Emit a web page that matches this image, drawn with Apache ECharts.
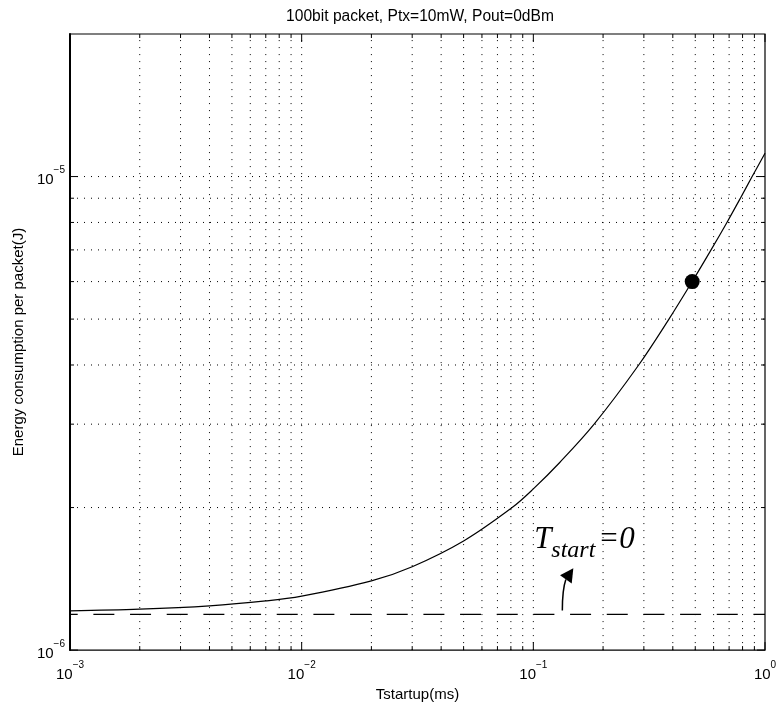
<!DOCTYPE html>
<html>
<head>
<meta charset="utf-8">
<title>Energy consumption per packet</title>
<script src="https://cdn.jsdelivr.net/npm/echarts@6/dist/echarts.min.js"></script>
<style>
  html, body { margin: 0; padding: 0; background: #fff; }
  #main { width: 782px; height: 707px; }
</style>
</head>
<body>
<div id="main"></div>
<script type="text/javascript">
// values (t in ms, energy in J)
var tStartup = [0.001, 0.002, 0.004, 0.007, 0.01, 0.02, 0.03, 0.05, 0.081, 0.1,
                0.13, 0.183, 0.285, 0.385, 0.485, 0.585, 0.685, 0.783, 0.88, 1.0];
var energy   = [1.21e-6, 1.22e-6, 1.24e-6, 1.27e-6, 1.30e-6, 1.40e-6, 1.50e-6, 1.70e-6, 2.0e-6, 2.19e-6,
                2.49e-6, 3.0e-6, 4.0e-6, 5.0e-6, 6.0e-6, 7.0e-6, 8.0e-6, 9.0e-6, 1.0e-5, 1.12e-5];
var baseEnergy = 1.19e-6;          // T_start = 0 level
var dotPoint = [0.485, 6.0e-6];
var xRange = [0.001, 1];
var yRange = [1e-6, 2e-5];
var xMajor = [0.001, 0.01, 0.1, 1];
var xMinor = [0.002, 0.003, 0.004, 0.005, 0.006, 0.007, 0.008, 0.009,
              0.02, 0.03, 0.04, 0.05, 0.06, 0.07, 0.08, 0.09,
              0.2, 0.3, 0.4, 0.5, 0.6, 0.7, 0.8, 0.9];
var yMajor = [1e-6, 1e-5];
var yMinor = [2e-6, 3e-6, 4e-6, 5e-6, 6e-6, 7e-6, 8e-6, 9e-6];
var noteAt = [0.1, 1.63e-6];

var FONT = 'Liberation Sans';
var dotDash = [1, 6];

function powLabel(v) {
  var e = Math.log(v) / Math.LN10;
  var r = Math.round(e);
  if (Math.abs(e - r) > 0.01) return '';
  return '{b|10}{s|' + (r < 0 ? '\u2212' + (-r) : r) + '}';
}
var labelRich = {
  b: { fontSize: 15, lineHeight: 22, verticalAlign: 'bottom', fontFamily: FONT, color: '#000' },
  s: { fontSize: 10, lineHeight: 10, verticalAlign: 'top', fontFamily: FONT, color: '#000' }
};

function tickLine(x1, y1, x2, y2, dash) {
  return {
    type: 'line',
    shape: { x1: x1, y1: y1, x2: x2, y2: y2 },
    style: { stroke: '#000', lineWidth: 1, lineDash: dash || null },
    silent: true
  };
}

function renderXGrid(params, api) {
  var v = api.value(0);
  var len = api.value(2) ? 8 : 4;
  var p0 = api.coord([v, yRange[0]]);
  var p1 = api.coord([v, yRange[1]]);
  var kids = [];
  if (v > xRange[0] && v < xRange[1]) {
    kids.push(tickLine(p0[0], p0[1], p1[0], p1[1], dotDash));
  }
  kids.push(tickLine(p0[0], p0[1], p0[0], p0[1] - len));
  kids.push(tickLine(p1[0], p1[1], p1[0], p1[1] + len));
  return { type: 'group', children: kids };
}

function renderYGrid(params, api) {
  var v = api.value(1);
  var len = api.value(2) ? 8 : 4;
  var p0 = api.coord([xRange[0], v]);
  var p1 = api.coord([xRange[1], v]);
  var kids = [];
  if (v > yRange[0] && v < yRange[1]) {
    kids.push(tickLine(p0[0], p0[1], p1[0], p1[1], dotDash));
  }
  kids.push(tickLine(p0[0], p0[1], p0[0] + len, p0[1]));
  kids.push(tickLine(p1[0], p1[1], p1[0] - len, p1[1]));
  return { type: 'group', children: kids };
}

var xGridData = xMajor.map(function (v) { return [v, yRange[0], 1]; })
  .concat(xMinor.map(function (v) { return [v, yRange[0], 0]; }));
var yGridData = yMajor.map(function (v) { return [xRange[0], v, 1]; })
  .concat(yMinor.map(function (v) { return [xRange[0], v, 0]; }));

var curve = tStartup.map(function (t, i) { return [t, energy[i]]; });
var baseLine = [[xRange[0], baseEnergy], [xRange[1], baseEnergy]];

var myChart = echarts.init(document.getElementById('main'));
var option = {
  backgroundColor: '#fff',
  animation: false,
  title: {
    text: '100bit packet, Ptx=10mW, Pout=0dBm',
    left: 415,
    textAlign: 'center',
    top: 4,
    textStyle: { fontFamily: FONT, fontSize: 15.6, fontWeight: 'normal', color: '#000' }
  },
  grid: {
    left: 70, right: 17, top: 34, bottom: 54,
    show: true, borderColor: '#000', borderWidth: 1.2, backgroundColor: '#fff'
  },
  xAxis: {
    type: 'log', logBase: 10, min: xRange[0], max: xRange[1],
    name: 'Tstartup(ms)', nameLocation: 'middle', nameGap: 30,
    nameTextStyle: { fontFamily: FONT, fontSize: 15, color: '#000' },
    axisLine: { show: false }, axisTick: { show: false }, splitLine: { show: false },
    axisLabel: { margin: 10, formatter: powLabel, rich: labelRich, showMaxLabel: true, showMinLabel: true }
  },
  yAxis: {
    type: 'log', logBase: 10, min: yRange[0], max: yRange[1],
    name: 'Energy consumption per packet(J)', nameLocation: 'middle', nameGap: 40,
    nameTextStyle: { fontFamily: FONT, fontSize: 15, color: '#000' },
    axisLine: { show: true, lineStyle: { color: '#000', width: 2 } },
    axisTick: { show: false }, splitLine: { show: false },
    axisLabel: { margin: 5, formatter: powLabel, rich: labelRich }
  },
  series: [
    { type: 'custom', renderItem: renderXGrid, data: xGridData, encode: { x: 0, y: 1 }, silent: true, z: 1 },
    { type: 'custom', renderItem: renderYGrid, data: yGridData, encode: { x: 0, y: 1 }, silent: true, z: 1 },
    {
      type: 'line', data: baseLine, symbol: 'none', z: 3,
      lineStyle: { color: '#000', width: 1.3, type: [21, 15.67], dashOffset: 13.3 }
    },
    {
      type: 'line', data: curve, symbol: 'none', smooth: 0.35, z: 4,
      lineStyle: { color: '#000', width: 1.2 }
    },
    {
      type: 'scatter', data: [dotPoint], symbol: 'circle', symbolSize: 15, z: 5,
      itemStyle: { color: '#000', opacity: 1 }
    }
  ]
};
myChart.setOption(option);

// T_start = 0 annotation and its arrow, placed from a data anchor
var a = myChart.convertToPixel({ gridIndex: 0 }, noteAt);
var serif = 'Liberation Serif';
myChart.setOption({
  graphic: [
    { type: 'text', x: a[0] + 1, y: a[1] - 10, silent: true,
      style: { text: 'T', font: 'italic 31px "' + serif + '"', fill: '#000', verticalAlign: 'middle' } },
    { type: 'text', x: a[0] + 18, y: a[1] + 1, silent: true,
      style: { text: 'start', font: 'italic 24px "' + serif + '"', fill: '#000', verticalAlign: 'middle' } },
    { type: 'text', x: a[0] + 65, y: a[1] - 10, silent: true,
      style: { text: '=0', font: 'italic 31px "' + serif + '"', fill: '#000', verticalAlign: 'middle' } },
    { type: 'bezierCurve', silent: true,
      shape: { x1: a[0] + 29, y1: a[1] + 61, cpx1: a[0] + 29, cpy1: a[1] + 40, x2: a[0] + 32.5, y2: a[1] + 30 },
      style: { stroke: '#000', lineWidth: 1.5, fill: null } },
    { type: 'polygon', silent: true,
      shape: { points: [[a[0] + 40, a[1] + 18.7], [a[0] + 26.7, a[1] + 25.7], [a[0] + 38.4, a[1] + 34]] },
      style: { fill: '#000' } }
  ]
});
</script>
</body>
</html>
